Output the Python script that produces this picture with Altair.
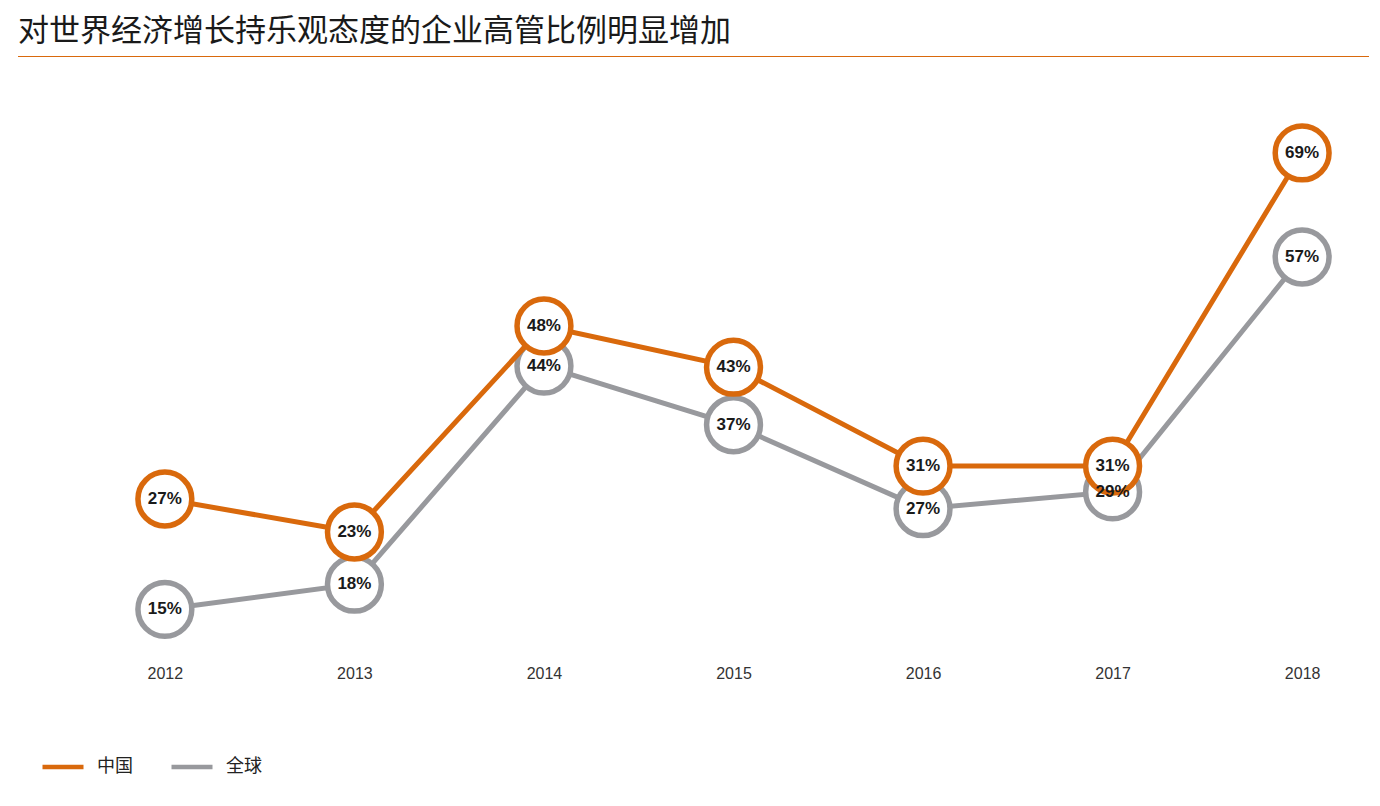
import altair as alt
import pandas as pd

years = ["2012", "2013", "2014", "2015", "2016", "2017", "2018"]
china = [27, 23, 48, 43, 31, 31, 69]
world = [15, 18, 44, 37, 27, 29, 57]
series_names = ["中国", "全球"]
title_text = "对世界经济增长持乐观态度的企业高管比例明显增加"

ORANGE = "#d9690c"
GREY = "#98999d"
LABEL_FONT = "Liberation Sans, Arial, sans-serif"

rows = []
for name, vals in zip(series_names, [china, world]):
    for y, v in zip(years, vals):
        rows.append({"year": y, "value": v, "series": name, "label": f"{v}%"})
df = pd.DataFrame(rows)

x_enc = alt.X(
    "year:O",
    scale=alt.Scale(type="point", padding=0.3),
    axis=alt.Axis(title=None, labelAngle=0, domain=False, ticks=False, grid=False,
                  labelFontSize=16, labelPadding=2, labelColor="#333333",
                  labelFont=LABEL_FONT),
)
color_enc = alt.Color(
    "series:N",
    scale=alt.Scale(domain=series_names, range=[ORANGE, GREY]),
    legend=alt.Legend(
        title=None, orient="none", direction="horizontal",
        legendX=-68, legendY=643,
        symbolType="stroke", symbolSize=1681, symbolStrokeWidth=4.5,
        labelFontSize=18, labelFont="Noto Sans CJK SC", labelColor="#222222",
        labelOffset=11, columnPadding=29,
    ),
)

domains = {"中国": [7.1, 75.3], "全球": [8.6, 75.6]}


def y_for(name):
    return alt.Y("value:Q", scale=alt.Scale(domain=domains[name], zero=False, nice=False), axis=None)


def shapes(name):
    base = alt.Chart(df).transform_filter(alt.datum.series == name)
    line = base.mark_line(strokeWidth=5, strokeCap="round").encode(x=x_enc, y=y_for(name), color=color_enc)
    pts = base.mark_point(filled=False, fill="white", fillOpacity=1, opacity=1,
                          size=2900, strokeWidth=5.5, shape="circle").encode(
        x=x_enc, y=y_for(name), color=color_enc)
    return alt.layer(line, pts)


def labels(name):
    base = alt.Chart(df).transform_filter(alt.datum.series == name)
    return base.mark_text(fontSize=17, fontWeight="bold", color="#1a1a1a",
                          font=LABEL_FONT, baseline="middle", align="center").encode(
        x=x_enc, y=y_for(name), text="label:N")


deco = pd.DataFrame({"t": [title_text]})
rule = alt.Chart(deco).mark_rule(color=ORANGE, strokeWidth=1).encode(
    x=alt.value(-90), x2=alt.value(1272), y=alt.value(-44.5))
title = alt.Chart(deco).mark_text(
    align="left", baseline="alphabetic", fontSize=31, font="Noto Sans CJK SC",
    color="#1a1a1a").encode(x=alt.value(-90), y=alt.value(-60), text="t:N")

chart = alt.layer(
    shapes("全球"), shapes("中国"), labels("全球"), labels("中国"), rule, title
).resolve_scale(y="independent").properties(
    width=1251, height=562,
    autosize=alt.AutoSizeParams(type="none"),
    padding={"left": 100, "top": 93, "right": 10, "bottom": 135},
).configure_view(stroke=None)

chart.save("out.html", embed_options={"renderer": "svg", "actions": False})
